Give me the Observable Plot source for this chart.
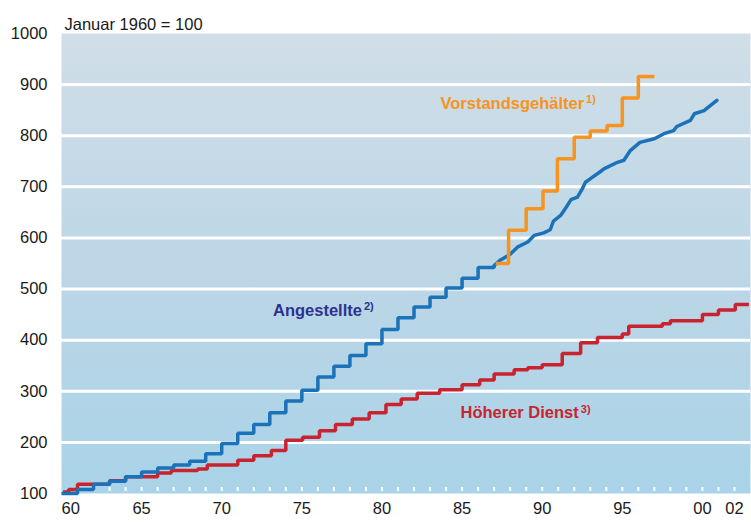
<!DOCTYPE html>
<html><head><meta charset="utf-8">
<script src="https://cdn.jsdelivr.net/npm/d3@7"></script>
<script src="https://cdn.jsdelivr.net/npm/@observablehq/plot@0.6"></script>
<style>
body{margin:0;background:#fff;}
#chart svg{display:block;}
</style></head><body><div id="chart"></div>
<script>
// ---- data (index, Januar 1960 = 100) ----
const titleText = "Januar 1960 = 100";

// Angestellte: annual steps 1960-1987
const angestellteStepYears  = [1960,1961,1962,1963,1964,1965,1966,1967,1968,1969,1970,1971,1972,1973,1974,1975,1976,1977,1978,1979,1980,1981,1982,1983,1984,1985,1986,1987];
const angestellteStepValues = [100, 108, 118, 124, 133, 142, 150, 156, 163, 178, 198, 218, 235, 258, 281, 302, 328, 349, 370, 393, 421, 444, 465, 484, 502, 521, 542, 546];
// Angestellte: monthly series 1987-2000
const angestellteMonthYears  = [1987.0,1987.4,1988.0,1988.45,1989.1,1989.5,1990.1,1990.5,1990.7,1991.15,1991.5,1991.8,1992.2,1992.5,1992.7,1993.1,1993.6,1993.85,1994.7,1995.1,1995.5,1996.1,1997.0,1997.6,1998.2,1998.4,1999.25,1999.5,2000.1,2000.9];
const angestellteMonthValues = [546, 557, 568, 582, 592, 605, 610, 616, 633, 644, 660, 675, 680, 696, 709, 718, 729, 735, 748, 752, 771, 787, 794, 804, 810, 818, 830, 843, 849, 869];

// Höherer Dienst: steps
const dienstYears  = [1960.1,1960.45,1961,1963,1964,1966,1966.85,1968.5,1969.1,1971,1972,1973.1,1974,1975.05,1976.1,1977.1,1978.15,1979.2,1980.25,1981.2,1982.2,1983.6,1985.0,1986.1,1987.0,1988.25,1989.1,1990.0,1991.25,1992.4,1993.45,1995.0,1995.4,1997.5,1998.0,2000.0,2001.0,2002.05,2002.9];
const dienstValues = [103,   108,    118, 125, 133, 140, 145,   148,   156,   165, 174, 184,   204, 210,    223,   235,   246,    258,   274,    285,   296,   303,   313,   322,   334,   342,    346,   352,   374,    395,   405,    412,   427,   432,   438,   450,   459,   470,    470];

// Vorstandsgehälter: steps
const vorstandYears  = [1987.1,1987.9,1989.0,1990.05,1990.95,1992.0,1993.0,1994.05,1995.0,1996.0,1997.0];
const vorstandValues = [550,   615,   657,   692,    755,    797,   809,   820,    874,   916,   916];

// axes
const yTicks = [100,200,300,400,500,600,700,800,900,1000];
const gridValues = [200,300,400,500,600,700,800,900];
const xTicks = [1960,1965,1970,1975,1980,1985,1990,1995,2000,2002];
const dashYears = d3.range(1961, 2003);

// series labels (anchored in data space)
const labelNames  = ["Vorstandsgehälter","Angestellte","Höherer Dienst"];
const labelNotes  = ["1)","2)","3)"];
const labelYears  = [1983.65, 1973.2, 1984.9];
const labelValues = [863, 458, 258];
const labelColors = ["#f7931e", "#2e3192", "#c9232f"];

// ---- build ----
const toRows = (xs, ys) => xs.map((x, i) => ({x, y: ys[i]}));
const blue = "#1b72b9", red = "#c9232f", orange = "#f7931e";
const fmt2 = d => String(d % 100).padStart(2, "0");
const labels = labelNames.map((n, i) => ({n, x: labelYears[i], y: labelValues[i], c: labelColors[i]}));
const FS = 16.5;

const plot = Plot.plot({
  width: 751, height: 522,
  marginLeft: 61, marginRight: 1, marginTop: 33, marginBottom: 29,
  style: {fontFamily: "'Liberation Sans', Arial, Helvetica, sans-serif", fontSize: FS + "px", background: "white", color: "#1a1a1a", overflow: "visible"},
  x: {domain: [1960, 2003]},
  y: {domain: [100, 1000]},
  marks: [
    Plot.frame({fill: "url(#bggrad)", stroke: "none"}),
    Plot.ruleY(gridValues, {y: d => d, stroke: "white", strokeWidth: 3}),
    Plot.ruleX(dashYears, {x: d => d, stroke: "white", strokeWidth: 2, insetTop: 454, insetBottom: 2}),
    Plot.axisY({ticks: yTicks, tickFormat: d => String(d), tickSize: 0, tickPadding: 14, label: null, fontSize: FS}),
    Plot.axisX({ticks: xTicks.slice(1), tickFormat: fmt2, tickSize: 0, tickPadding: 9, label: null, fontSize: FS}),
    Plot.text([xTicks[0]], {x: d => d, frameAnchor: "bottom", textAnchor: "start", lineAnchor: "top", dy: 9, text: fmt2, fontSize: FS}),
    Plot.line(toRows(dienstYears, dienstValues), {x: "x", y: "y", stroke: red, strokeWidth: 3.5, curve: "step-after", strokeLinejoin: "miter", strokeLinecap: "butt"}),
    Plot.line(toRows(angestellteStepYears, angestellteStepValues), {x: "x", y: "y", stroke: blue, strokeWidth: 3.5, curve: "step-after", strokeLinejoin: "miter", strokeLinecap: "butt"}),
    Plot.line(toRows(angestellteMonthYears, angestellteMonthValues), {x: "x", y: "y", stroke: blue, strokeWidth: 3.5, curve: "linear"}),
    Plot.line(toRows(vorstandYears, vorstandValues), {x: "x", y: "y", stroke: orange, strokeWidth: 3.5, curve: "step-after", strokeLinejoin: "miter", strokeLinecap: "butt"}),
    Plot.text(labels, {x: "x", y: "y", text: "n", fill: "c", textAnchor: "start", fontSize: FS, fontWeight: "bold"}),
    Plot.text([titleText], {frameAnchor: "top-left", text: d => d, textAnchor: "start", dx: 3, dy: -15, fontSize: FS})
  ]
});

// gradient background for the plot frame
const svgSel = d3.select(plot);
const grad = svgSel.insert("defs", ":first-child").append("linearGradient")
  .attr("id", "bggrad").attr("x1", 0).attr("y1", 0).attr("x2", 0).attr("y2", 1);
grad.append("stop").attr("offset", "0%").attr("stop-color", "#d0dee7");
grad.append("stop").attr("offset", "55%").attr("stop-color", "#bbd6e6");
grad.append("stop").attr("offset", "100%").attr("stop-color", "#a9d3e8");

// superscript footnote markers on the series labels
const notes = new Map(labelNames.map((n, i) => [n, labelNotes[i]]));
svgSel.selectAll("text").each(function() {
  const t = this.textContent;
  if (notes.has(t)) {
    d3.select(this).append("tspan").attr("dx", 2).attr("dy", "-0.5em").attr("font-size", "11px").text(notes.get(t));
  }
});

document.getElementById("chart").appendChild(plot);
</script>
</body></html>
